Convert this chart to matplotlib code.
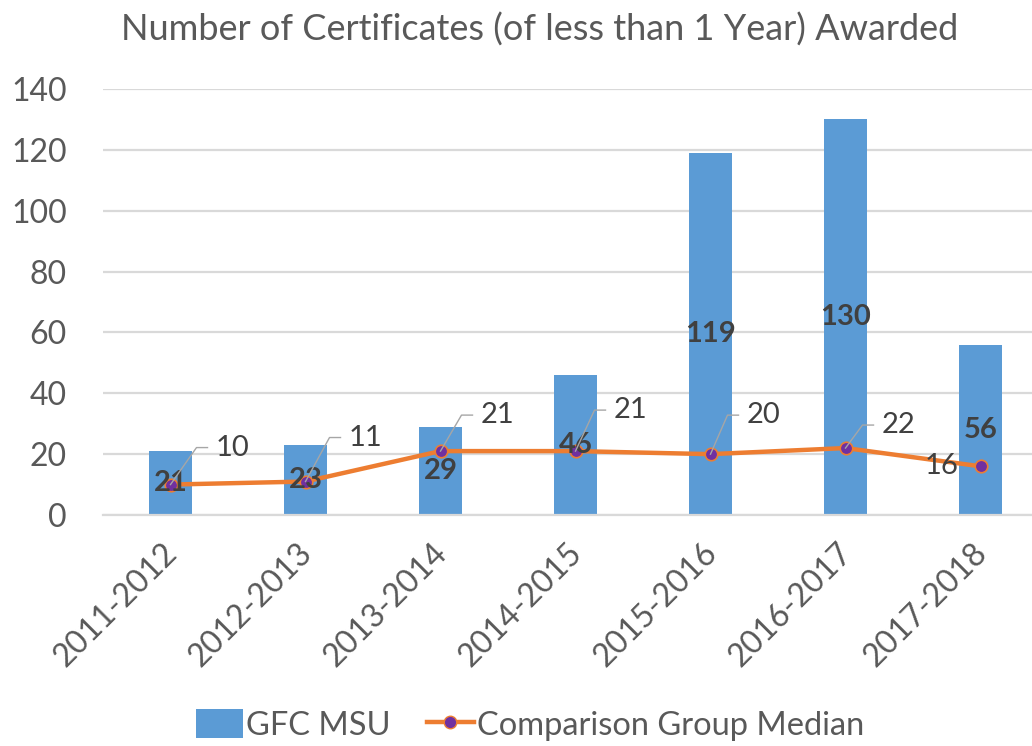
import matplotlib
matplotlib.use("Agg")
import matplotlib.pyplot as plt
import matplotlib.transforms as mtransforms
from matplotlib.lines import Line2D
from matplotlib.patches import Patch
import numpy as np

categories = ["2011-2012", "2012-2013", "2013-2014", "2014-2015",
              "2015-2016", "2016-2017", "2017-2018"]
gfc_msu = [21, 23, 29, 46, 119, 130, 56]
comparison_median = [10, 11, 21, 21, 20, 22, 16]
y_ticks = [0, 20, 40, 60, 80, 100, 120, 140]

title = "Number of Certificates (of less than 1 Year) Awarded"

# label offsets in pixels (text left edge / center y relative to point)
label_offsets = [(45, 37), (43, 44), (40, 36), (38, 41), (36, 39), (36, 23), (-22, 0)]

BAR = "#5B9BD5"
ORANGE = "#ED7D31"
PURPLE = "#7030A0"
GRID = "#D9D9D9"
TXT = "#595959"
DARK = "#404040"

plt.rcParams['font.family'] = ['Lato', 'DejaVu Sans']

W, H = 1032, 746
fig = plt.figure(figsize=(W / 100, H / 100), dpi=100)
left_px, right_px, top_px, bot_px = 103, 1048, 89, 515
ax = fig.add_axes([left_px / W, (H - bot_px) / H,
                   (right_px - left_px) / W, (bot_px - top_px) / H])

x = np.arange(len(categories))
ax.set_xlim(-0.5, len(categories) - 0.5)
ax.set_ylim(0, 140)

bars = ax.bar(x, gfc_msu, width=0.32, color=BAR, zorder=2)
ax.plot(x, comparison_median, color=ORANGE, lw=3.2, zorder=3,
        marker='o', markersize=9, markerfacecolor=PURPLE,
        markeredgecolor=ORANGE, markeredgewidth=1.2)

ax.set_yticks(y_ticks)
ax.set_xticks(x)
ax.set_xticklabels(categories, rotation=45, ha='right', rotation_mode='anchor')
ax.tick_params(axis='both', length=0, labelsize=23, colors=TXT)
ax.tick_params(axis='y', pad=26)
ax.tick_params(axis='x', pad=8)
shift = mtransforms.ScaledTranslation(-9 / 100, -12 / 100, fig.dpi_scale_trans)
for lab in ax.get_xticklabels():
    lab.set_transform(lab.get_transform() + shift)
ax.yaxis.grid(True, color=GRID, lw=1.6, zorder=0)
ax.set_axisbelow(True)
for s in ['top', 'right', 'left']:
    ax.spines[s].set_visible(False)
ax.spines['bottom'].set_color(GRID)
ax.spines['bottom'].set_linewidth(1.6)

# bar value labels at bar centers
for xi, v in zip(x, gfc_msu):
    ax.text(xi, v / 2, str(v), ha='center', va='center', fontsize=21,
            fontweight='bold', color=DARK, zorder=5)

# line labels with leader lines
for xi, v, (dx, dy) in zip(x, comparison_median, label_offsets):
    px, py = ax.transData.transform((xi, v))
    tx, ty = px + dx, py + dy
    if dx > 0:
        ax.add_line(Line2D([px, tx - 19, tx - 8], [py, ty, ty], transform=None,
                           color="#A6A6A6", lw=1.0, zorder=6))
        fig.text(tx / W, ty / H, str(v), ha='left', va='center',
                 fontsize=21, color=DARK, zorder=7)
    else:
        fig.text((px + dx) / W, py / H, str(v), ha='right', va='center',
                 fontsize=21, color=DARK, zorder=7)

fig.text(540 / W, (H - 30) / H, title, ha='center', va='center',
         fontsize=26, color=TXT)

handles = [Patch(facecolor=BAR, edgecolor='none'),
           Line2D([0], [0], color=ORANGE, lw=3.2, marker='o', markersize=9,
                  markerfacecolor=PURPLE, markeredgecolor=ORANGE)]
fig.legend(handles, ["GFC MSU", "Comparison Group Median"],
           loc='center', bbox_to_anchor=(530 / W, (H - 725) / H),
           ncol=2, frameon=False, fontsize=23.5, labelcolor=TXT,
           handlelength=1.45, handleheight=0.95, handletextpad=0.1,
           columnspacing=1.1)

fig.savefig("out.png", dpi=100)
